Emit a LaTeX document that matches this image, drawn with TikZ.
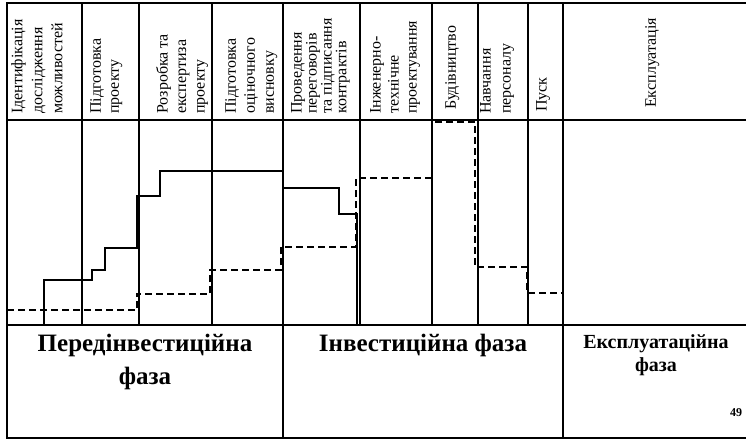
\documentclass[tikz,border=0pt]{standalone}
\usepackage{fontspec}
\setmainfont{Liberation Serif}

\begin{document}
\begin{tikzpicture}[x=1pt, y=-1pt,
    frame/.style={line width=1.6pt},
    divider/.style={line width=1.1pt},
    planline/.style={line width=1.8pt},
    factline/.style={line width=2.2pt, dash pattern=on 7pt off 4pt},
    stage/.style={rotate=90, anchor=north west, align=left, inner sep=0pt,
        font=\fontsize{16}{18}\selectfont},
    phase/.style={anchor=north, align=center, inner sep=0pt,
        font=\bfseries\fontsize{25}{33}\selectfont}]
    \useasboundingbox (0,0) rectangle (746,441);

    \draw[frame] (746,3) -- (7,3) -- (7,438) -- (746,438);
    \draw[divider] (7,120) -- (746,120);
    \draw[divider] (7,325) -- (746,325);
    \foreach \x in {82,139,212,360,432,478,528}
        \draw[divider] (\x,3) -- (\x,325);
    \draw[frame] (283,3) -- (283,438);
    \draw[frame] (563,3) -- (563,438);

    \node[stage, font=\fontsize{16}{20}\selectfont] (ident) at (11,114) {Ідентифікація\\дослідження\\можливостей};
    \node[stage] (prep) at (90,114) {Підготовка\\проекту};
    \node[stage, font=\fontsize{16}{18.5}\selectfont] (expert) at (156,114) {Розробка та\\експертиза\\проекту};
    \node[stage, font=\fontsize{16}{19}\selectfont] (report) at (225,114) {Підготовка\\оціночного\\висновку};
    \node[stage, font=\fontsize{16}{13}\selectfont] (contract) at (291,114) {Проведення\\переговорів\\та підписання\\контрактів};
    \node[stage] (design) at (370,114) {Інженерно-\\технічне\\проектування};
    \node[stage] (build) at (445,110) {Будівництво};
    \node[stage, font=\fontsize{16}{20}\selectfont] (train) at (480,114) {Навчання\\персоналу};
    \node[stage] (launch) at (536,112) {Пуск};
    \node[stage] (operate) at (645,108) {Експлуатація};

    \draw[planline] (44,325) -- (44,280) -- (92,280) -- (92,270) -- (105,270) -- (105,248)
        -- (137,248) -- (137,196) -- (160,196) -- (160,171) -- (283,171) -- (283,188)
        -- (339,188) -- (339,214) -- (357,214) -- (357,325);
    \draw[factline] (7,310) -- (137,310) -- (137,294) -- (210,294) -- (210,270) -- (281,270)
        -- (281,247) -- (356,247) -- (356,178) -- (432,178) -- (432,122) -- (475,122)
        -- (475,267) -- (527,267) -- (527,293) -- (563,293) -- (563,325);

    \node[phase] (pre) at (145,334) {Передінвестиційна\\фаза};
    \node[phase] (inv) at (423,334) {Інвестиційна фаза};
    \node[phase, font=\bfseries\fontsize{20}{23}\selectfont] (exp) at (656,334) {Експлуатаційна\\фаза};
    \node[font=\bfseries\fontsize{12}{12}\selectfont, inner sep=0pt] (page) at (736,413) {49};
\end{tikzpicture}
\end{document}
